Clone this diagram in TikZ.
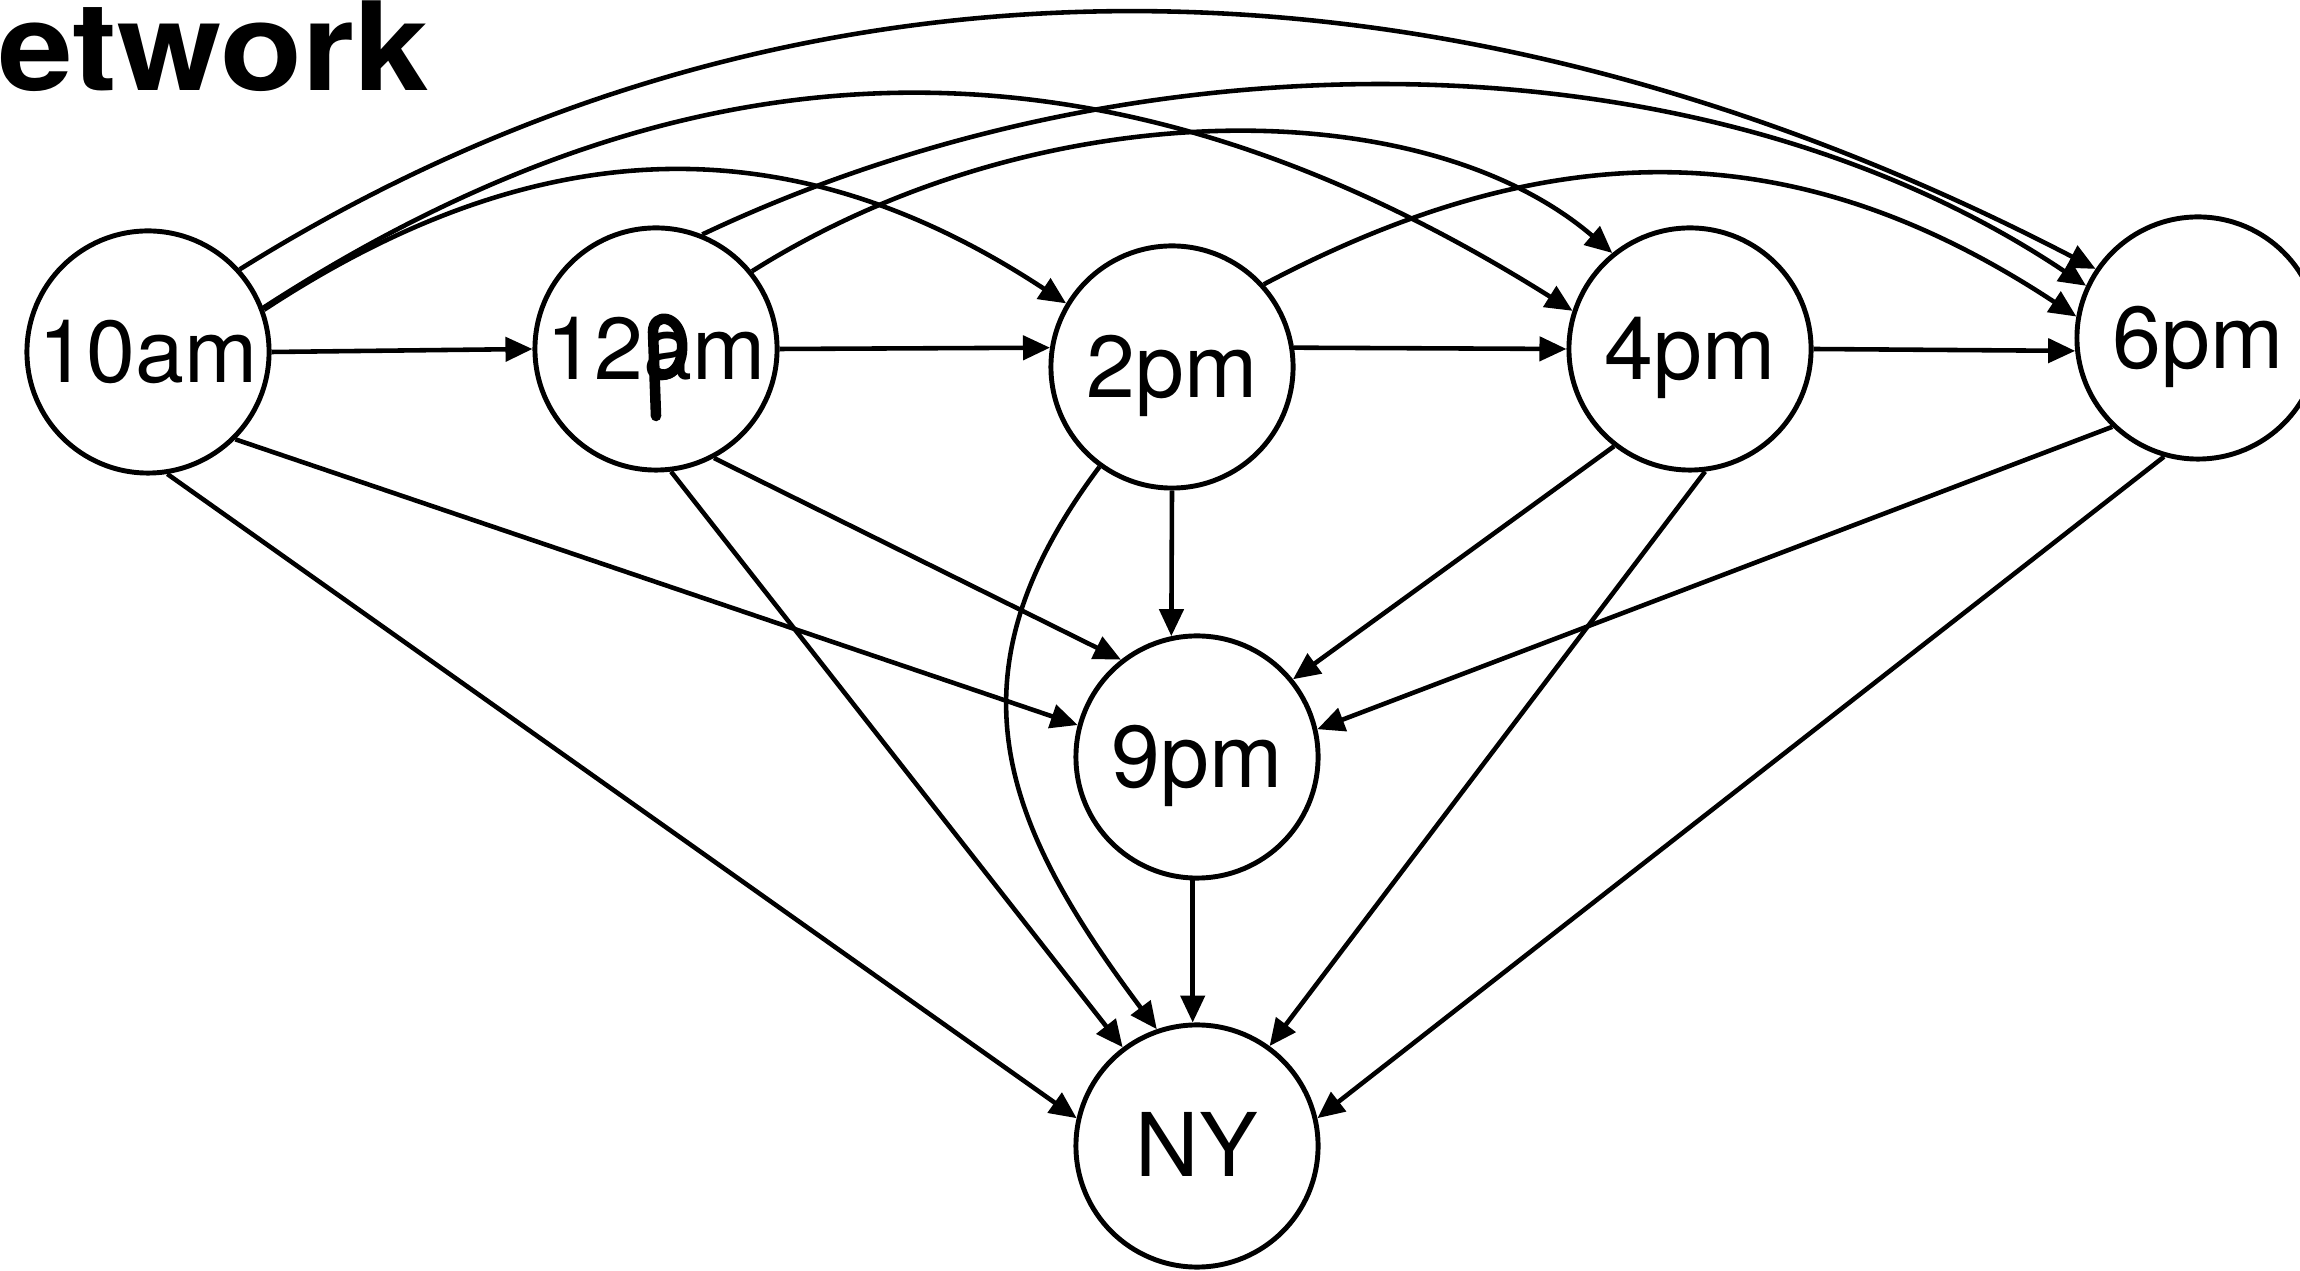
\documentclass[tikz,border=0pt]{standalone}
\usepackage{fontspec}
\usepackage{graphicx}
\setmainfont{TeX Gyre Heros}
\usetikzlibrary{arrows.meta}
\begin{document}
\begin{tikzpicture}[x=0.01cm, y=-0.01cm,
  town/.style={circle, draw, line width=1.4pt, minimum size=2.42cm, inner sep=0pt, text height=17.6pt, text depth=0pt, font=\fontsize{25}{30}\selectfont},
  link/.style={line width=1.3pt, -{Triangle[length=0.27cm, width=0.24cm]}},
  scribble/.style={line width=3pt, line cap=round, line join=round},
]
\useasboundingbox (0,0) rectangle (2300,1271);

\node[anchor=base west, inner sep=0pt, font=\fontsize{35}{40}\selectfont\bfseries] (title) at (-2,91) {\scalebox{1.09}[1]{etwork}};

\node[town] (A) at (148,352) {10am};
\node[town] (B) at (656,349) {12am};
\node[town] (C) at (1172,367) {2pm};
\node[town] (D) at (1690,349) {4pm};
\node[town] (E) at (2198,338) {6pm};
\node[town] (F) at (1197,757) {9pm};
\node[town] (G) at (1197,1146) {NY};

% handwritten correction over the 12am label
\draw[scribble] (656,416) -- (653,332) .. controls (653,312) and (680,314) .. (682,343) .. controls (684,370) and (666,380) .. (656,372);

% horizontal chain
\draw[link] (A.east) -- (B.west);
\draw[link] (B.east) -- (C.171);
\draw[link] (C.9) -- (D.west);
\draw[link] (D.east) -- (E.186);

% upper arcs
\draw[link] (A.42) .. controls +(546,-341) and +(-661,-343) .. (E.146);
\draw[link] (A.21) .. controls +(440,-285) and +(-458,-288) .. (D.162);
\draw[link] (A.20) .. controls +(280,-184) and +(-270,-178) .. (C.149);
\draw[link] (B.68) .. controls +(437,-207) and +(-384,-257) .. (E.155);
\draw[link] (B.39) .. controls +(287,-181) and +(-190,-163) .. (D.129);
\draw[link] (C.42) .. controls +(290,-153) and +(-279,-184) .. (E.170);

% lower edges
\draw[link] (A.-81) -- (G.167);
\draw[link] (A.-45) -- (F.165);
\draw[link] (B.-83) -- (G.127);
\draw[link] (B.-62) -- (F.128);
\draw[link] (C.south) -- (F.102);
\draw[link] (C.-126) .. controls +(-156,208) and +(-156,-208) .. (G.109);
\draw[link] (D.-128) -- (F.39);
\draw[link] (D.-83) -- (G.54);
\draw[link] (E.-134) -- (F.13);
\draw[link] (E.-106) -- (G.13);
\draw[link] (F.-92) -- (G.92);
\end{tikzpicture}
\end{document}
